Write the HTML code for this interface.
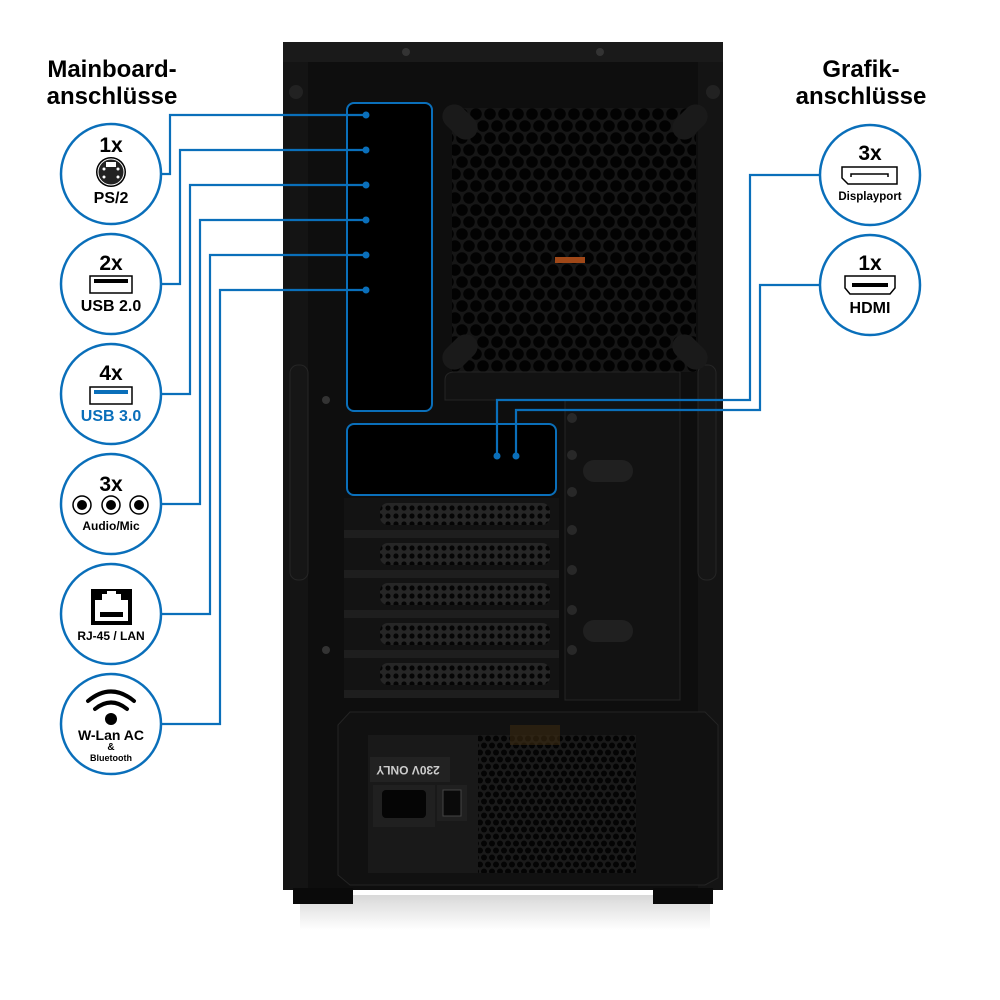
<!DOCTYPE html>
<html><head><meta charset="utf-8"><style>
html,body{margin:0;padding:0;background:#fff;}
svg{display:block;}
text{font-family:"Liberation Sans",sans-serif;font-weight:bold;}
</style></head><body>
<svg width="1000" height="1000" viewBox="0 0 1000 1000" xmlns="http://www.w3.org/2000/svg">
<defs>
<pattern id="hex" x="0" y="0" width="14" height="24" patternUnits="userSpaceOnUse">
<rect width="14" height="24" fill="#161616"/>
<circle cx="7" cy="6" r="5.8" fill="#020202"/>
<circle cx="0" cy="18" r="5.8" fill="#020202"/>
<circle cx="14" cy="18" r="5.8" fill="#020202"/>
</pattern>
<pattern id="psu" x="0" y="0" width="8" height="14" patternUnits="userSpaceOnUse">
<rect width="8" height="14" fill="#1a1a1a"/>
<circle cx="4" cy="3.5" r="3" fill="#040404"/>
<circle cx="0" cy="10.5" r="3" fill="#040404"/>
<circle cx="8" cy="10.5" r="3" fill="#040404"/>
</pattern>
<pattern id="pci" x="0" y="0" width="8" height="8" patternUnits="userSpaceOnUse">
<rect width="8" height="8" fill="#262626"/>
<circle cx="4" cy="4" r="2.6" fill="#050505"/>
</pattern>
<linearGradient id="shadow" x1="0" y1="0" x2="0" y2="1">
<stop offset="0" stop-color="#d8d8d8"/><stop offset="1" stop-color="#fff"/>
</linearGradient>
</defs>

<rect x="300" y="895" width="410" height="35" fill="url(#shadow)"/>

<rect x="283" y="42" width="440" height="848" fill="#0e0e0e"/>
<rect x="283" y="42" width="440" height="20" fill="#1a1a1a"/>
<rect x="283" y="62" width="25" height="828" fill="#141414"/>
<rect x="698" y="62" width="25" height="828" fill="#141414"/>
<rect x="293" y="888" width="60" height="16" fill="#0a0a0a"/>
<rect x="653" y="888" width="60" height="16" fill="#0a0a0a"/>
<circle cx="406" cy="52" r="4" fill="#333"/><circle cx="600" cy="52" r="4" fill="#333"/>
<circle cx="296" cy="92" r="7" fill="#222"/><circle cx="713" cy="92" r="7" fill="#222"/>
<rect x="290" y="365" width="18" height="215" rx="8" fill="#161616" stroke="#262626"/>
<rect x="698" y="365" width="18" height="215" rx="8" fill="#161616" stroke="#262626"/>

<rect x="452" y="108" width="244" height="264" fill="url(#hex)"/>
<rect x="440" y="110" width="40" height="24" rx="12" fill="#1a1a1a" transform="rotate(45 460 122)"/>
<rect x="670" y="110" width="40" height="24" rx="12" fill="#1a1a1a" transform="rotate(-45 690 122)"/>
<rect x="440" y="340" width="40" height="24" rx="12" fill="#1a1a1a" transform="rotate(-45 460 352)"/>
<rect x="670" y="340" width="40" height="24" rx="12" fill="#1a1a1a" transform="rotate(45 690 352)"/>
<rect x="555" y="257" width="30" height="6" fill="#a04818"/>

<path d="M445 380 Q445 372 455 372 L680 372 L680 700 L565 700 L565 400 L445 400 Z" fill="#121212" stroke="#242424"/>
<rect x="583" y="460" width="50" height="22" rx="11" fill="#202020"/>
<rect x="583" y="620" width="50" height="22" rx="11" fill="#202020"/>
<circle cx="572" cy="418" r="5" fill="#282828"/><circle cx="572" cy="455" r="5" fill="#282828"/>
<circle cx="572" cy="492" r="5" fill="#282828"/><circle cx="572" cy="530" r="5" fill="#282828"/>
<circle cx="572" cy="570" r="5" fill="#282828"/><circle cx="572" cy="610" r="5" fill="#282828"/><circle cx="572" cy="650" r="5" fill="#282828"/>

<g>
<rect x="344" y="498" width="215" height="32" fill="#131313"/><rect x="380" y="503" width="170" height="22" rx="8" fill="url(#pci)"/><rect x="344" y="530" width="215" height="8" fill="#1e1e1e"/>
<rect x="344" y="538" width="215" height="32" fill="#131313"/><rect x="380" y="543" width="170" height="22" rx="8" fill="url(#pci)"/><rect x="344" y="570" width="215" height="8" fill="#1e1e1e"/>
<rect x="344" y="578" width="215" height="32" fill="#131313"/><rect x="380" y="583" width="170" height="22" rx="8" fill="url(#pci)"/><rect x="344" y="610" width="215" height="8" fill="#1e1e1e"/>
<rect x="344" y="618" width="215" height="32" fill="#131313"/><rect x="380" y="623" width="170" height="22" rx="8" fill="url(#pci)"/><rect x="344" y="650" width="215" height="8" fill="#1e1e1e"/>
<rect x="344" y="658" width="215" height="32" fill="#131313"/><rect x="380" y="663" width="170" height="22" rx="8" fill="url(#pci)"/><rect x="344" y="690" width="215" height="8" fill="#1e1e1e"/>
</g>
<circle cx="326" cy="400" r="4" fill="#333"/><circle cx="326" cy="650" r="4" fill="#333"/>

<path d="M350 712 L705 712 L718 725 L718 878 L705 885 L350 885 L338 875 L338 725 Z" fill="#111" stroke="#242424"/>
<rect x="368" y="735" width="268" height="138" fill="url(#psu)"/>
<rect x="368" y="735" width="110" height="138" fill="#191919"/>
<rect x="370" y="757" width="80" height="25" fill="#222"/>
<text x="408" y="776" font-size="12" fill="#ccc" text-anchor="middle" transform="rotate(180 408 771)">230V ONLY</text>
<rect x="373" y="785" width="62" height="42" fill="#202020"/>
<rect x="382" y="790" width="44" height="28" rx="4" fill="#050505"/>
<rect x="437" y="785" width="30" height="36" fill="#202020"/>
<rect x="443" y="790" width="18" height="26" fill="#0a0a0a" stroke="#444"/>
<rect x="510" y="725" width="50" height="20" fill="#3a2a10" opacity="0.6"/>

<g stroke="#0a6fba" stroke-width="2" fill="#000">
<rect x="347" y="103" width="85" height="308" rx="7"/>
<rect x="347" y="424" width="209" height="71" rx="7"/>
</g>

<g stroke="#0a6fba" stroke-width="2.2" fill="none">
<polyline points="161,174 170,174 170,115 366,115"/>
<polyline points="161,284 180,284 180,150 366,150"/>
<polyline points="161,394 190,394 190,185 366,185"/>
<polyline points="161,504 200,504 200,220 366,220"/>
<polyline points="161,614 210,614 210,255 366,255"/>
<polyline points="161,724 220,724 220,290 366,290"/>
<polyline points="497,456 497,400 750,400 750,175 820,175"/>
<polyline points="516,456 516,410 760,410 760,285 820,285"/>
</g>
<g fill="#0a6fba">
<circle cx="366" cy="115" r="3.5"/><circle cx="366" cy="150" r="3.5"/><circle cx="366" cy="185" r="3.5"/>
<circle cx="366" cy="220" r="3.5"/><circle cx="366" cy="255" r="3.5"/><circle cx="366" cy="290" r="3.5"/>
<circle cx="497" cy="456" r="3.5"/><circle cx="516" cy="456" r="3.5"/>
</g>

<text x="112" y="77" font-size="24" text-anchor="middle" fill="#000">Mainboard-</text>
<text x="112" y="104" font-size="24" text-anchor="middle" fill="#000">anschlüsse</text>
<text x="861" y="77" font-size="24" text-anchor="middle" fill="#000">Grafik-</text>
<text x="861" y="104" font-size="24" text-anchor="middle" fill="#000">anschlüsse</text>

<g fill="#fff" stroke="#0a6fba" stroke-width="2.5">
<circle cx="111" cy="174" r="50"/><circle cx="111" cy="284" r="50"/><circle cx="111" cy="394" r="50"/>
<circle cx="111" cy="504" r="50"/><circle cx="111" cy="614" r="50"/><circle cx="111" cy="724" r="50"/>
<circle cx="870" cy="175" r="50"/><circle cx="870" cy="285" r="50"/>
</g>

<text x="111" y="152" font-size="21" text-anchor="middle">1x</text>
<circle cx="111" cy="172" r="15" fill="#000"/><circle cx="111" cy="172" r="13" fill="#222" stroke="#fff" stroke-width="1"/>
<rect x="106" y="162" width="10" height="5" fill="#fff"/>
<circle cx="104" cy="169" r="1.5" fill="#fff"/><circle cx="118" cy="169" r="1.5" fill="#fff"/><circle cx="104" cy="177" r="1.5" fill="#fff"/><circle cx="118" cy="177" r="1.5" fill="#fff"/>
<text x="111" y="203" font-size="16" text-anchor="middle">PS/2</text>
<text x="111" y="270" font-size="21" text-anchor="middle">2x</text>
<rect x="90" y="276" width="42" height="17" fill="#fff" stroke="#000" stroke-width="1.5"/>
<rect x="94" y="279" width="34" height="4" fill="#000"/>
<text x="111" y="311" font-size="16" text-anchor="middle">USB 2.0</text>
<text x="111" y="380" font-size="21" text-anchor="middle">4x</text>
<rect x="90" y="387" width="42" height="17" fill="#fff" stroke="#000" stroke-width="1.5"/>
<rect x="94" y="390" width="34" height="4" fill="#0a6fba"/>
<text x="111" y="421" font-size="16" text-anchor="middle" fill="#0a6fba">USB 3.0</text>
<text x="111" y="491" font-size="21" text-anchor="middle">3x</text>
<g fill="#fff" stroke="#000" stroke-width="1.5">
<circle cx="82" cy="505" r="9"/><circle cx="111" cy="505" r="9"/><circle cx="139" cy="505" r="9"/></g>
<circle cx="82" cy="505" r="5" fill="#000"/><circle cx="111" cy="505" r="5" fill="#000"/><circle cx="139" cy="505" r="5" fill="#000"/>
<text x="111" y="530" font-size="12" text-anchor="middle">Audio/Mic</text>
<rect x="91" y="589" width="41" height="36" fill="#000"/>
<path d="M95 600 L102 600 L102 594 L107 594 L107 591 L116 591 L116 594 L121 594 L121 600 L128 600 L128 621 L95 621 Z" fill="#fff"/>
<rect x="100" y="612" width="23" height="5" fill="#000"/>
<text x="111" y="640" font-size="12" text-anchor="middle">RJ-45 / LAN</text>
<g fill="none" stroke="#000" stroke-width="4" stroke-linecap="round">
<path d="M88 701 Q111 682 134 701"/><path d="M95 709 Q111 696 127 709"/></g>
<circle cx="111" cy="719" r="6" fill="#000"/>
<text x="111" y="740" font-size="14" text-anchor="middle">W-Lan AC</text>
<text x="111" y="750" font-size="10" text-anchor="middle">&amp;</text>
<text x="111" y="761" font-size="9" text-anchor="middle">Bluetooth</text>
<text x="870" y="160" font-size="21" text-anchor="middle">3x</text>
<path d="M842 167 L897 167 L897 184 L848 184 L842 178 Z" fill="#fff" stroke="#000" stroke-width="1.5"/>
<path d="M851 177 L851 174 L888 174 L888 177" fill="none" stroke="#000" stroke-width="1.5"/>
<text x="870" y="200" font-size="11.5" text-anchor="middle">Displayport</text>
<text x="870" y="270" font-size="21" text-anchor="middle">1x</text>
<path d="M845 276 L895 276 L895 288 L890 294 L850 294 L845 288 Z" fill="#fff" stroke="#000" stroke-width="1.5"/>
<rect x="852" y="283" width="36" height="4" fill="#000"/>
<text x="870" y="313" font-size="16" text-anchor="middle">HDMI</text>
</svg>
</body></html>
